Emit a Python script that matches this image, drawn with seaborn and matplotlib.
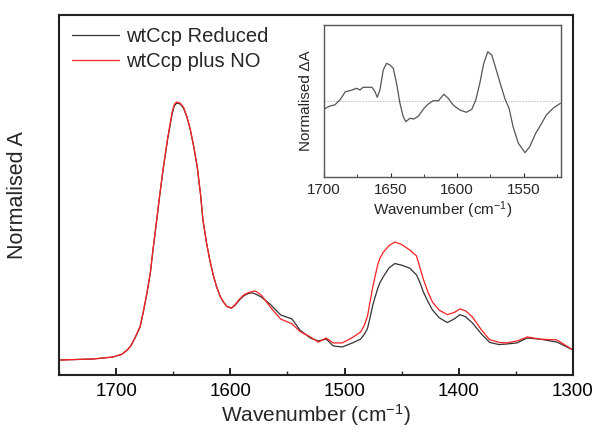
import numpy as np
import pandas as pd
import matplotlib
matplotlib.use("Agg")
import matplotlib.pyplot as plt
from matplotlib.ticker import MultipleLocator
import seaborn as sns

# ---- main spectra (wavenumber, normalised absorbance) ----
wn = [1750, 1720, 1703, 1695, 1690, 1687, 1684, 1681, 1679, 1676, 1673, 1670,
      1668, 1665, 1662, 1659, 1655, 1651, 1649, 1647, 1644, 1641, 1638, 1635,
      1632, 1629, 1626, 1624, 1621, 1618, 1615, 1612, 1609, 1606, 1603, 1599,
      1596, 1592, 1588, 1584, 1581, 1578, 1573, 1565, 1556, 1546, 1539, 1530,
      1523, 1516, 1510, 1502, 1493, 1486, 1483, 1480, 1478, 1475, 1471, 1469,
      1466, 1461, 1456, 1450, 1443, 1437, 1434, 1431, 1427, 1423, 1417, 1410,
      1404, 1399, 1394, 1388, 1380, 1373, 1365, 1358, 1349, 1340, 1329, 1314,
      1300]
reduced = [0.055, 0.059, 0.066, 0.076, 0.093, 0.108, 0.132, 0.158, 0.176, 0.235, 0.301, 0.375,
           0.449, 0.550, 0.654, 0.750, 0.864, 0.960, 0.990, 1.000, 0.997, 0.982, 0.948, 0.901,
           0.838, 0.765, 0.660, 0.570, 0.490, 0.423, 0.368, 0.324, 0.290, 0.268, 0.252, 0.246,
           0.256, 0.276, 0.292, 0.300, 0.302, 0.298, 0.287, 0.260, 0.221, 0.206, 0.165, 0.136,
           0.125, 0.132, 0.107, 0.103, 0.118, 0.132, 0.148, 0.170, 0.205, 0.262, 0.318, 0.340,
           0.362, 0.394, 0.410, 0.404, 0.393, 0.368, 0.340, 0.305, 0.270, 0.239, 0.210, 0.193,
           0.206, 0.222, 0.214, 0.191, 0.150, 0.120, 0.112, 0.114, 0.118, 0.136, 0.132, 0.121,
           0.092]
plus_no = [0.055, 0.059, 0.066, 0.076, 0.093, 0.108, 0.132, 0.160, 0.178, 0.237, 0.303, 0.378,
           0.452, 0.553, 0.657, 0.754, 0.868, 0.966, 0.996, 1.004, 1.000, 0.985, 0.950, 0.903,
           0.840, 0.767, 0.662, 0.572, 0.490, 0.423, 0.368, 0.324, 0.290, 0.268, 0.252, 0.246,
           0.258, 0.279, 0.295, 0.303, 0.307, 0.309, 0.294, 0.250, 0.206, 0.188, 0.160, 0.140,
           0.121, 0.136, 0.118, 0.118, 0.138, 0.158, 0.180, 0.215, 0.262, 0.330, 0.405, 0.430,
           0.452, 0.476, 0.489, 0.480, 0.460, 0.438, 0.395, 0.352, 0.305, 0.268, 0.238, 0.222,
           0.230, 0.243, 0.236, 0.213, 0.165, 0.130, 0.120, 0.118, 0.125, 0.140, 0.132, 0.129,
           0.092]

# ---- inset difference spectrum ----
wn_diff = [1699, 1695.5, 1692, 1688, 1684, 1680.5, 1675.5, 1673, 1670.7, 1664, 1661.7,
           1660, 1658, 1655.5, 1653, 1650.5, 1648, 1645.5, 1643, 1640.5, 1638.5, 1635.5,
           1632.5, 1629, 1625.5, 1622, 1618, 1614, 1610, 1606.7, 1603, 1598, 1593, 1589,
           1586, 1583, 1580, 1577, 1574, 1571, 1567.5, 1564, 1561, 1558, 1554, 1549,
           1545.5, 1541, 1538, 1533, 1528, 1522.5]
delta_a = [-0.146, -0.100, -0.080, 0.020, 0.186, 0.206, 0.254, 0.220, 0.274, 0.274, 0.186,
           0.074, 0.220, 0.620, 0.754, 0.720, 0.654, 0.354, -0.040, -0.314, -0.414, -0.346,
           -0.360, -0.300, -0.166, -0.066, 0.006, 0.006, 0.134, 0.054, -0.080, -0.180, -0.226, -0.166,
           0.020, 0.354, 0.754, 0.986, 0.920, 0.654, 0.340, 0.034, -0.146, -0.514, -0.846, -1.034,
           -0.914, -0.646, -0.514, -0.280, -0.146, -0.046]

legend_labels = ["wtCcp Reduced", "wtCcp plus NO"]
main_xticks = [1700, 1600, 1500, 1400, 1300]
inset_xticks = [1700, 1650, 1600, 1550]

sns.set_style("ticks")
plt.rcParams['font.family'] = ['Liberation Sans', 'DejaVu Sans']
plt.rcParams['mathtext.fontset'] = 'custom'
plt.rcParams['mathtext.rm'] = 'Liberation Sans'
plt.rcParams['mathtext.it'] = 'Liberation Sans:italic'
plt.rcParams['mathtext.bf'] = 'Liberation Sans:bold'
plt.rcParams['mathtext.default'] = 'regular'

df = pd.DataFrame({
    "wn": wn * 2,
    "A": reduced + plus_no,
    "sample": [legend_labels[0]] * len(wn) + [legend_labels[1]] * len(wn),
})

fig = plt.figure(figsize=(5.98, 4.32), dpi=100)
ax = fig.add_axes([59/598, 1 - 375/432, (573-59)/598, (375-15)/432])

sns.lineplot(data=df, x="wn", y="A", hue="sample", sort=False,
             palette={legend_labels[0]: "#333333", legend_labels[1]: "#ff2020"},
             linewidth=0.9, ax=ax, estimator=None)

ax.set_xlim(1750, 1300)
ax.set_ylim(0, 1.324)
ax.set_xticks(main_xticks)
ax.xaxis.set_minor_locator(MultipleLocator(50))
ax.set_yticks([])
ax.tick_params(axis='x', which='major', direction='in', length=5, width=1.2,
               labelsize=13.5, pad=6, colors='black')
ax.tick_params(axis='x', which='minor', direction='in', length=3, width=1.0)
for s in ax.spines.values():
    s.set_linewidth(1.5)
    s.set_color('#222222')
ax.set_xlabel("Wavenumber (cm$^{-1}$)", fontsize=15, labelpad=1)
ax.set_ylabel("Normalised A", fontsize=15.5, labelpad=22)

leg = ax.legend(loc='upper left', bbox_to_anchor=(0.01, 0.99), frameon=False,
                fontsize=14.5, handlelength=2.3, handletextpad=0.35, labelspacing=0.3,
                borderaxespad=0.0)

# inset
ins = fig.add_axes([324/598, 1 - 177/432, (561-324)/598, (177-25)/432])
ins.axhline(0, color='#bbbbbb', linewidth=0.7, linestyle=(0, (1.5, 1.5)))
sns.lineplot(x=wn_diff, y=delta_a, color='#555555', linewidth=0.9, ax=ins,
             sort=False, estimator=None)
ins.set_xlim(1700, 1522)
ins.set_ylim(-1.52, 1.52)
ins.set_xticks(inset_xticks)
ins.xaxis.set_minor_locator(MultipleLocator(25))
ins.set_yticks([])
ins.tick_params(axis='x', which='major', direction='in', length=3, width=0.8,
                labelsize=10.8, pad=4)
ins.tick_params(axis='x', which='minor', direction='in', length=2, width=0.6)
for s in ins.spines.values():
    s.set_linewidth(1.0)
    s.set_color('#555555')
ins.set_xlabel("Wavenumber (cm$^{-1}$)", fontsize=11, labelpad=2)
ins.set_ylabel("Normalised \u0394A", fontsize=11, labelpad=8)

fig.savefig("out.png", dpi=100)
